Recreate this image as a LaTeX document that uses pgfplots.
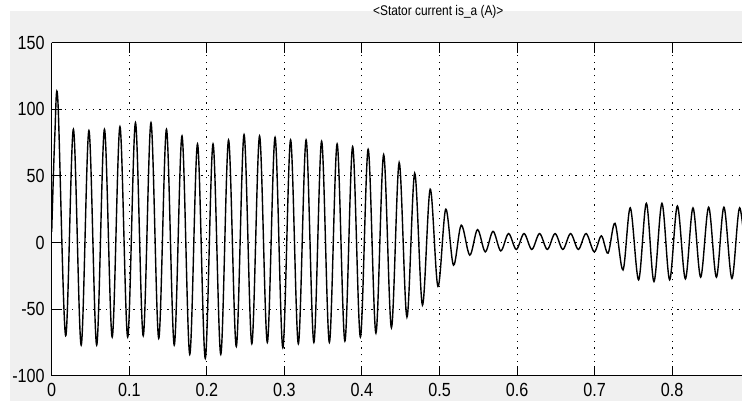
\documentclass[border=0pt]{standalone}
\usepackage{fontspec}
\setmainfont{Liberation Sans}[FakeStretch=0.85]
\usepackage{pgfplots}
\pgfplotsset{compat=1.18}
\definecolor{scopegray}{RGB}{240,240,240}

\begin{document}
\begin{tikzpicture}
% scope window background (1px = 0.5pt)
\fill[scopegray] (-20.85pt,-12.65pt) rectangle (345.15pt,182.35pt);
\useasboundingbox (-25.85pt,-12.65pt) rectangle (345.15pt,187.85pt);
\begin{axis}[
    at={(0pt,0pt)}, anchor=south west,
    scale only axis, width=345.15pt, height=166.5pt,
    xmin=0, xmax=0.89, ymin=-100, ymax=150,
    xtick={0,0.1,0.2,0.3,0.4,0.5,0.6,0.7,0.8},
    ytick={-100,-50,0,50,100,150},
    axis x line=box, axis y line=left,
    y axis line style={-},
    axis line style={line width=0.6pt},
    tick align=inside, major tick length=5pt,
    tick style={black, line width=0.5pt},
    grid=major,
    grid style={black, line width=0.45pt, dash pattern=on 0.6pt off 2.8pt},
    axis background/.style={fill=white},
    ticklabel style={font=\fontsize{9.5}{10}\selectfont},
    /pgf/number format/assume math mode=true,
    title={<Stator current is\_a (A)>},
    title style={font=\fontsize{7}{8}\selectfont, at={(0.56,1)}, anchor=base, yshift=7.35pt},
  ]
  \addplot[black, line width=0.7pt, smooth, tension=0.55] coordinates {
    (0,8)(0.004,80)(0.008,106)(0.018,-70)(0.028,85)(0.038,-77)(0.048,84)(0.058,-77)
    (0.068,85)(0.078,-71)(0.088,87)(0.098,-71)(0.108,90)(0.118,-70)(0.128,90)(0.138,-72)
    (0.148,85)(0.158,-77)(0.168,80)(0.178,-84)(0.188,74)(0.198,-87)(0.208,74)(0.218,-84)
    (0.228,77)(0.238,-78)(0.248,81)(0.258,-76)(0.268,80)(0.278,-75)(0.288,79)(0.298,-79)
    (0.308,77)(0.318,-76)(0.328,77)(0.338,-75)(0.348,76)(0.358,-75)(0.368,74)(0.378,-74)
    (0.388,72)(0.398,-71)(0.408,70)(0.418,-68)(0.428,66)(0.438,-64)(0.448,60)(0.458,-56)
    (0.468,52)(0.478,-47)(0.488,40)(0.498,-33)(0.508,25)(0.518,-17)(0.528,13)(0.539,-9.5)
    (0.549,9.7)(0.559,-7)(0.569,8.4)(0.579,-6.3)(0.589,6.7)(0.599,-5.2)(0.609,6.7)(0.619,-5.2)
    (0.629,6.7)(0.639,-5.2)(0.649,6.7)(0.659,-5.2)(0.669,6.7)(0.679,-5.2)(0.689,6.7)(0.6995,-7)
    (0.7087,5)(0.7173,-8)(0.7263,14.4)(0.7366,-20.6)(0.746,26)(0.7567,-28)(0.7667,29.4)(0.7765,-29.3)
    (0.7868,29.4)(0.7967,-28)(0.8067,27.4)(0.817,-27.3)(0.8268,26)(0.8367,-26)(0.847,26.5)(0.857,-26)
    (0.8667,26.5)(0.877,-27)(0.887,26)(0.897,-26)
  };
\end{axis}
\end{tikzpicture}
\end{document}
